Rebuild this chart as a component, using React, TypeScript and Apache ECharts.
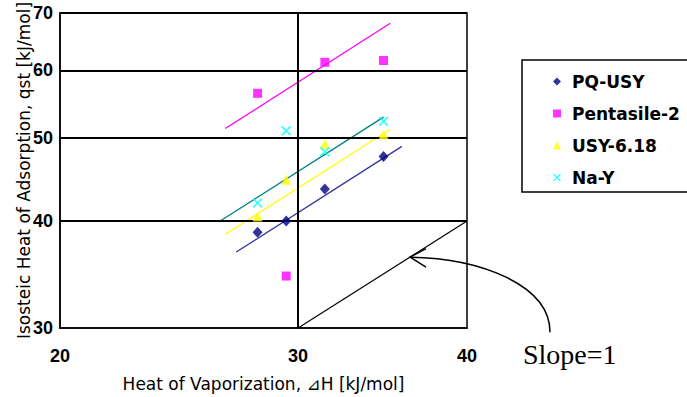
import React, { useEffect, useRef } from "react";
import * as echarts from "echarts";

const xTicks = [20, 30, 40];
const yTicks = [30, 40, 50, 60, 70];
const gridX = [30];
const gridY = [40, 50, 60, 70];

const vaporHeat = [28.0, 29.4, 31.4, 34.7];
const pqUsy = [38.8, 40.0, 43.6, 47.6];
const pentasile2 = [56.4, 34.5, 61.3, 61.6];
const usy618 = [40.5, 44.7, 49.2, 50.5];
const naY = [42.0, 51.0, 48.2, 52.3];

const pqTrendX = [27.0, 35.8];
const pqTrendY = [36.8, 48.9];
const pentTrendX = [26.5, 35.1];
const pentTrendY = [51.3, 68.1];
const usyTrendX = [26.5, 35.1];
const usyTrendY = [38.6, 51.2];
const naTrendX = [26.2, 34.7];
const naTrendY = [39.9, 52.9];

const slopeX = [30, 40];
const slopeY = [30, 40];
const arrowTarget = [36.3, 36.3];

const zip = (xs: number[], ys: number[]) => xs.map((x, i) => [x, ys[i]]);

const X_PATH =
  "path://M0,1.2L1.2,0L5,3.8L8.8,0L10,1.2L6.2,5L10,8.8L8.8,10L5,6.2L1.2,10L0,8.8L3.8,5Z";

export default function App() {
  const ref = useRef<HTMLDivElement>(null);
  useEffect(() => {
    if (!ref.current) return;
    document.body.style.margin = "0";
    const chart = echarts.init(ref.current, undefined, { renderer: "svg" });
    const font = "'Liberation Sans', Arial, sans-serif";
    const wideFont = "'DejaVu Sans', 'Liberation Sans', sans-serif";
    const trend = (name: string, xs: number[], ys: number[], color: string) => ({
      type: "line",
      name,
      data: zip(xs, ys),
      symbol: "none",
      silent: true,
      lineStyle: { color, width: 1.3 },
      z: 3,
    });
    chart.setOption({
      animation: false,
      grid: {
        left: 60,
        right: 220,
        top: 13,
        bottom: 69,
        show: true,
        borderColor: "#000",
        borderWidth: 1.5,
        outerBoundsMode: "none",
      },
      xAxis: {
        type: "log",
        min: 20,
        max: 40,
        name: "Heat of Vaporization, ⊿H [kJ/mol]",
        nameLocation: "middle",
        nameGap: 47,
        nameMoveOverlap: false,
        nameTextStyle: { fontSize: 17, fontFamily: wideFont, color: "#000" },
        axisLine: { show: true, lineStyle: { color: "#000", width: 1.5 } },
        axisTick: { show: false },
        splitLine: { show: false },
        axisLabel: {
          customValues: xTicks,
          margin: 19,
          fontSize: 18,
          fontWeight: "bold",
          fontFamily: font,
          color: "#000",
          formatter: (v: number) => String(Math.round(v)),
        },
      },
      yAxis: {
        type: "log",
        min: 30,
        max: 70,
        name: "Isosteic Heat of Adsorption, qst [kJ/mol]",
        nameLocation: "middle",
        nameRotate: 90,
        nameGap: 28,
        nameMoveOverlap: false,
        nameTextStyle: { fontSize: 17, fontFamily: wideFont, color: "#000" },
        axisLine: { show: true, lineStyle: { color: "#000", width: 1.5 } },
        axisTick: { show: false },
        splitLine: { show: false },
        axisLabel: {
          customValues: yTicks,
          margin: 7,
          fontSize: 18,
          fontWeight: "bold",
          fontFamily: font,
          color: "#000",
          formatter: (v: number) => String(Math.round(v)),
        },
      },
      legend: {
        orient: "vertical",
        left: 522,
        top: 60,
        padding: [13, 30, 6, 31],
        itemWidth: 8,
        itemHeight: 8,
        itemGap: 15,
        borderColor: "#000",
        borderWidth: 1.5,
        backgroundColor: "#fff",
        data: ["PQ-USY", "Pentasile-2", "USY-6.18", "Na-Y"],
        textStyle: {
          fontSize: 17,
          fontWeight: "bold",
          fontFamily: wideFont,
          color: "#000",
          padding: [0, 0, 0, 6],
        },
      },
      series: [
        {
          type: "line",
          name: "grid",
          data: [],
          silent: true,
          z: 1,
          markLine: {
            silent: true,
            symbol: "none",
            label: { show: false },
            lineStyle: { color: "#000", width: 2, type: "solid" },
            data: [
              ...gridX.map((v) => ({ xAxis: v })),
              ...gridY.map((v) => ({ yAxis: v })),
            ],
          },
        },
        {
          type: "line",
          name: "slope",
          data: zip(slopeX, slopeY),
          symbol: "none",
          silent: true,
          lineStyle: { color: "#000", width: 1.2 },
          z: 3,
        },
        trend("PQ-USY trend", pqTrendX, pqTrendY, "#333399"),
        trend("Pentasile-2 trend", pentTrendX, pentTrendY, "#FF00FF"),
        trend("USY-6.18 trend", usyTrendX, usyTrendY, "#FFFF00"),
        trend("Na-Y trend", naTrendX, naTrendY, "#008080"),
        {
          type: "scatter",
          name: "PQ-USY",
          data: zip(vaporHeat, pqUsy),
          symbol: "diamond",
          symbolSize: [10, 11],
          itemStyle: { color: "#000080" },
          z: 5,
        },
        {
          type: "scatter",
          name: "Pentasile-2",
          data: zip(vaporHeat, pentasile2),
          symbol: "rect",
          symbolSize: 9,
          itemStyle: { color: "#FF00FF" },
          z: 5,
        },
        {
          type: "scatter",
          name: "USY-6.18",
          data: zip(vaporHeat, usy618),
          symbol: "triangle",
          symbolSize: [10, 10],
          itemStyle: { color: "#FFFF00" },
          z: 5,
        },
        {
          type: "scatter",
          name: "Na-Y",
          data: zip(vaporHeat, naY),
          symbol: X_PATH,
          symbolSize: 10,
          itemStyle: { color: "#00FFFF" },
          z: 5,
        },
      ],
    });

    const tip = chart.convertToPixel({ xAxisIndex: 0, yAxisIndex: 0 }, arrowTarget) as number[];
    if (tip && isFinite(tip[0])) {
      const [tx, ty] = tip;
      chart.setOption({
        graphic: [
          {
            type: "bezierCurve",
            silent: true,
            shape: {
              x1: tx,
              y1: ty,
              cpx1: tx + 71,
              cpy1: ty + 1,
              cpx2: tx + 140,
              cpy2: ty + 28,
              x2: tx + 140,
              y2: ty + 75,
            },
            style: { stroke: "#000", lineWidth: 1.5, fill: "none" },
          },
          {
            type: "polyline",
            silent: true,
            shape: {
              points: [
                [tx + 16, ty - 8.5],
                [tx, ty],
                [tx + 16, ty + 10],
              ],
            },
            style: { stroke: "#000", lineWidth: 1.5, fill: "none" },
          },
          {
            type: "text",
            silent: true,
            x: tx + 113,
            y: ty + 97,
            style: {
              text: "Slope=1",
              fontSize: 28,
              fontFamily: "'Liberation Serif', 'Times New Roman', serif",
              fill: "#000",
              verticalAlign: "middle",
              align: "left",
            },
          },
        ],
      });
    }
    return () => chart.dispose();
  }, []);
  return <div ref={ref} style={{ width: 687, height: 397 }} />;
}
